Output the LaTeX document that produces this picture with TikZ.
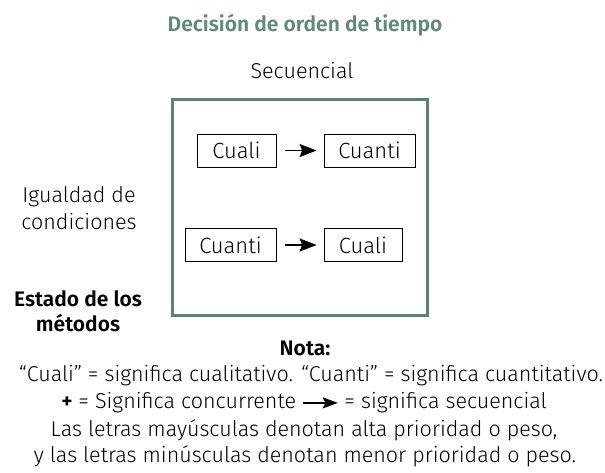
\documentclass[tikz,border=0pt]{standalone}
\usepackage{fontspec}
\setmainfont{Fira Sans Light}[BoldFont=Fira Sans SemiBold]
\usetikzlibrary{arrows.meta}
\definecolor{titlegreen}{HTML}{5E8A78}
\definecolor{framegreen}{HTML}{5D8273}
\tikzset{
  txt/.style={font=\fontsize{21.5}{26}\selectfont, inner sep=0pt, align=center},
  methodbox/.style={draw=black, line width=0.8pt, font=\fontsize{22}{26}\selectfont, minimum height=33pt, inner sep=0pt},
  seqarrow/.style={line width=1.5pt, -{Stealth[length=17pt,width=13pt,inset=2.5pt]}},
}
\newcommand{\legarrow}{\tikz[baseline=-6pt,x=1pt,y=1pt]\draw[line width=1.4pt,-{Stealth[length=15pt,width=11pt,inset=2.5pt]}] (0,0) -- (35,0);}
\begin{document}
\begin{tikzpicture}[x=1pt,y=-1pt]
\useasboundingbox (0,0) rectangle (605,472);
\node[txt, font=\fontsize{21}{26}\selectfont\bfseries, text=titlegreen] (title) at (305,25) {Decisión de orden de tiempo};
\node[txt] (sec) at (302,71) {Secuencial};
\node[draw=framegreen, line width=3pt, minimum width=255pt, minimum height=216pt, inner sep=0pt] (frame) at (300,207) {};
\node[methodbox, minimum width=79pt] (b1) at (236.5,150.5) {Cuali};
\node[methodbox, minimum width=91pt] (b2) at (369.5,150.5) {Cuanti};
\node[methodbox, minimum width=91pt] (b3) at (230.5,245) {Cuanti};
\node[methodbox, minimum width=78pt] (b4) at (363,245) {Cuali};
\draw[seqarrow] ([xshift=9pt]b1.east) -- ([xshift=-7pt]b2.west);
\draw[seqarrow] ([xshift=9pt]b3.east) -- ([xshift=-7pt]b4.west);
\node[txt, font=\fontsize{21.5}{27}\selectfont] (ig) at (79,208) {Igualdad de\\condiciones};
\node[txt, font=\fontsize{21}{25}\selectfont\bfseries] (est) at (78,311) {Estado de los\\métodos};
\node[txt, font=\fontsize{21}{26}\selectfont\bfseries] (nota) at (305,348) {Nota:};
\node[txt] (n1) at (311,376) {“Cuali” = significa cualitativo. “Cuanti” = significa cuantitativo.};
\node[txt] (n2) at (304,403) {\textbf{+} = Significa concurrente \legarrow{} = significa secuencial};
\node[txt] (n3) at (304,430) {Las letras mayúsculas denotan alta prioridad o peso,};
\node[txt] (n4) at (305,456) {y las letras minúsculas denotan menor prioridad o peso.};
\end{tikzpicture}
\end{document}
